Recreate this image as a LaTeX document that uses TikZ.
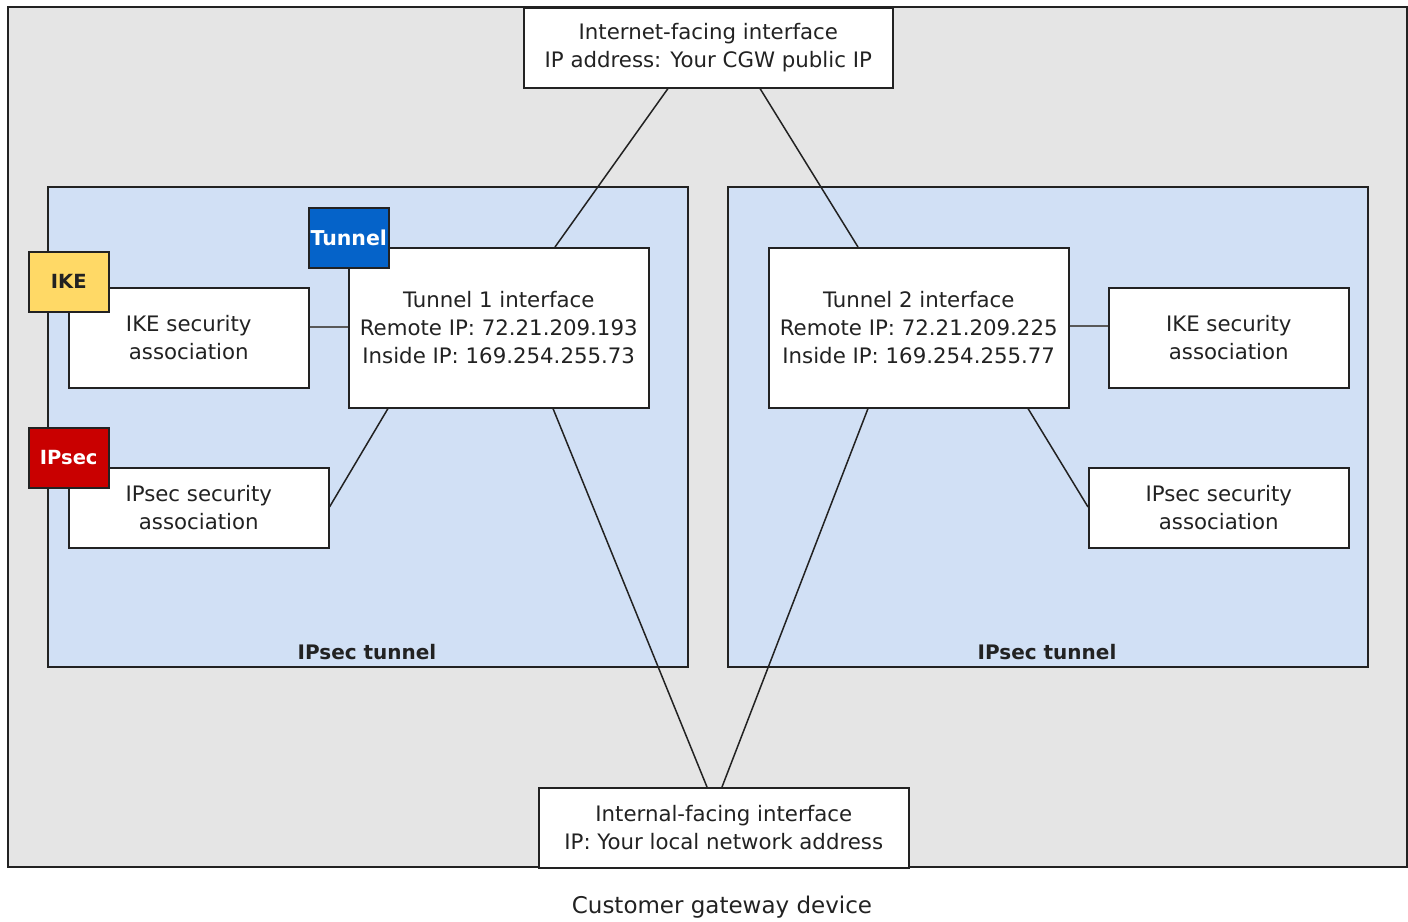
\documentclass[tikz,border=0pt]{standalone}
\usepackage{fontspec}
\setmainfont{DejaVu Sans}
\usetikzlibrary{calc}
\definecolor{bggray}{HTML}{E5E5E5}
\definecolor{panelblue}{HTML}{D1E0F5}
\definecolor{badgeblue}{HTML}{0563C9}
\definecolor{badgeyellow}{HTML}{FFD966}
\definecolor{badgered}{HTML}{C90000}
\definecolor{linegray}{HTML}{222222}
\begin{document}
\begin{tikzpicture}[x=1pt,y=-1pt,
  every node/.style={font=\fontsize{21.3}{28}\selectfont, text=linegray},
  whitebox/.style={draw=linegray, line width=1.5pt, fill=white, anchor=north west, inner sep=0pt, align=center},
  panel/.style={draw=linegray, line width=1.5pt, fill=panelblue},
  badge/.style={draw=linegray, line width=1.5pt, anchor=north west, minimum width=80pt, minimum height=60pt, inner sep=0pt, font=\fontsize{19.5}{24}\selectfont\bfseries},
  conn/.style={draw=linegray, line width=1.5pt},
  connthick/.style={draw=linegray!75, line width=2.5pt}
]
\useasboundingbox (0,0) rectangle (1408,921);
% outer device
\draw[draw=linegray, line width=1.5pt, fill=bggray] (8,7) rectangle (1407,867);
% panels
\draw[panel] (48,187) rectangle (688,667);
\draw[panel] (728,187) rectangle (1368,667);
\node[font=\fontsize{20}{24}\selectfont\bfseries] (lbl1) at (367,652) {IPsec tunnel};
\node[font=\fontsize{20}{24}\selectfont\bfseries] (lbl2) at (1047,652) {IPsec tunnel};

% boxes
\node[whitebox, minimum width=369pt, minimum height=80pt] (inet) at (523,7)
  {Internet-facing interface\\IP address: Your CGW public IP};
\node[whitebox, minimum width=370pt, minimum height=80pt] (intl) at (538,787)
  {Internal-facing interface\\IP: Your local network address};

\node[whitebox, minimum width=300pt, minimum height=160pt] (t1) at (348,247)
  {Tunnel 1 interface\\Remote IP: 72.21.209.193\\Inside IP: 169.254.255.73};
\node[whitebox, minimum width=300pt, minimum height=160pt] (t2) at (768,247)
  {Tunnel 2 interface\\Remote IP: 72.21.209.225\\Inside IP: 169.254.255.77};

\node[whitebox, minimum width=240pt, minimum height=100pt] (ike1) at (68,287)
  {IKE security\\association};
\node[whitebox, minimum width=260pt, minimum height=80pt] (ips1) at (68,467)
  {IPsec security\\association};
\node[whitebox, minimum width=240pt, minimum height=100pt] (ike2) at (1108,287)
  {IKE security\\association};
\node[whitebox, minimum width=260pt, minimum height=80pt] (ips2) at (1088,467)
  {IPsec security\\association};

% badges
\node[badge, fill=badgeblue, text=white, font=\fontsize{20.5}{24}\selectfont\bfseries] (tb) at (308,207) {Tunnel};
\node[badge, fill=badgeyellow, text=linegray] (ikeb) at (28,251) {IKE};
\node[badge, fill=badgered, text=white] (ipsb) at (28,427) {IPsec};

% connectors
\draw[conn] ($(inet.south west)+(145,0)$) -- ($(t1.north west)+(207,0)$);
\draw[conn] ($(inet.south west)+(237,0)$) -- ($(t2.north west)+(90,0)$);
\draw[connthick] ($(ike1.north east)+(0,40)$) -- ($(t1.north west)+(0,80)$);
\draw[connthick] ($(t2.north east)+(0,79)$) -- ($(ike2.north west)+(0,39)$);
\draw[conn] ($(ips1.north east)+(0,40)$) -- ($(t1.south west)+(40,0)$);
\draw[conn] ($(t2.south west)+(260,0)$) -- ($(ips2.north west)+(0,40)$);
\draw[conn] ($(t1.south west)+(205,0)$) -- ($(intl.north west)+(169,0)$);
\draw[conn] ($(t2.south west)+(100,0)$) -- ($(intl.north west)+(184,0)$);

% caption
\node[font=\fontsize{23}{28}\selectfont] (cap) at (722,907) {Customer gateway device};
\end{tikzpicture}
\end{document}
